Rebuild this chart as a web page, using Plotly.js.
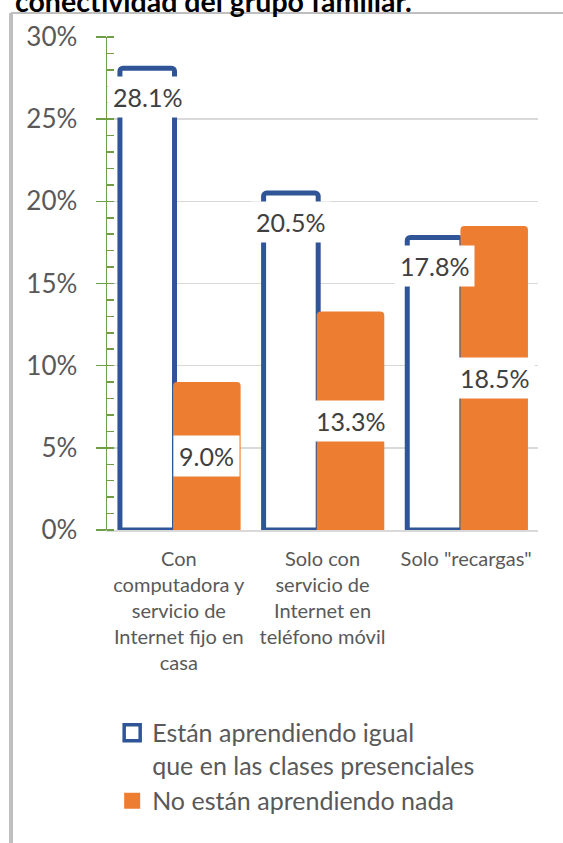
<!DOCTYPE html>
<html>
<head>
<meta charset="utf-8">
<script src="https://cdn.plot.ly/plotly-3.0.1.min.js"></script>
<style>html,body{margin:0;padding:0;background:#fff;}#chart{width:563px;height:843px;}</style>
</head>
<body>
<div id="chart"></div>
<script>
// ---- data ----
var categories = ["Con computadora y servicio de Internet fijo en casa", "Solo con servicio de Internet en teléfono móvil", "Solo \"recargas\""];
var tickLabels = ["Con<br>computadora y<br>servicio de<br>Internet fijo en<br>casa", "Solo con<br>servicio de<br>Internet en<br>teléfono móvil", "Solo \"recargas\""];
var seriesNames = ["Están aprendiendo igual<br>que en las clases presenciales", "No están aprendiendo nada"];
var igual = [0.281, 0.205, 0.178];
var nada = [0.090, 0.133, 0.185];
var yTickVals = [0, 0.05, 0.10, 0.15, 0.20, 0.25, 0.30];
var yTickText = ["0%", "5%", "10%", "15%", "20%", "25%", "30%"];
var titleText = "conectividad del grupo familiar.";

// ---- style ----
var FONT = 'Lato, "Open Sans", sans-serif';
var BLUE = '#2F5597', ORANGE = '#ED7D31', GREEN = '#6E9E48', GRID = '#D9D9D9';
var blueOff = -0.41, blueW = 0.38, orOff = -0.04, orW = 0.47;
var idx = categories.map(function(_, i){ return i; });

var traces = [
  {type:'bar', x: idx, y: igual, offset: blueOff, width: blueW, showlegend:false, hoverinfo:'skip',
   marker:{color:'#FFFFFF', line:{color:BLUE, width:5}, cornerradius:3}},
  {type:'bar', x: idx, y: nada, offset: orOff, width: orW, showlegend:false, hoverinfo:'skip',
   marker:{color:ORANGE, line:{width:0}, cornerradius:4}},
  {type:'scatter', mode:'markers', x:[null], y:[null], name: seriesNames[0], hoverinfo:'skip',
   marker:{symbol:'square', size:16, color:'#FFFFFF', line:{color:BLUE, width:3.5}}},
  {type:'scatter', mode:'markers', x:[null], y:[null], name: seriesNames[1], hoverinfo:'skip',
   marker:{symbol:'square', size:16, color:ORANGE, line:{width:0}}}
];

var annotations = [];
igual.forEach(function(v, i){
  annotations.push({xref:'x', yref:'y', x: i + blueOff + blueW/2, y: v, yshift:-29, yanchor:'middle',
    text:(v*100).toFixed(1)+'%', showarrow:false, bgcolor:'#FFFFFF', borderpad:5,
    font:{family:FONT, size:25, color:'#404040'}});
});
nada.forEach(function(v, i){
  annotations.push({xref:'x', yref:'y', x: i + orOff + orW/2, y: v/2, yanchor:'middle',
    text:(v*100).toFixed(1)+'%', showarrow:false, bgcolor:'#FFFFFF', borderpad:5,
    font:{family:FONT, size:25, color:'#404040'}});
});
annotations.push({xref:'paper', yref:'paper', x:-0.218, xanchor:'left', y:1.073, yanchor:'middle',
  text:'<b>'+titleText+'</b>', showarrow:false, font:{family:FONT, size:28.5, color:'#000000'}});

var layout = {
  width:563, height:843,
  margin:{l:107, r:25, t:37, b:313},
  paper_bgcolor:'#FFFFFF', plot_bgcolor:'#FFFFFF',
  barmode:'overlay',
  font:{family:FONT, color:'#595959'},
  xaxis:{type:'linear', range:[-0.5, 2.5], tickvals: idx, ticktext: tickLabels, ticks:'',
    showgrid:false, zeroline:false, showline:true, linecolor:GRID, linewidth:1.5,
    tickfont:{family:FONT, size:20, color:'#595959'}, ticklabelstandoff:10, fixedrange:true},
  yaxis:{range:[0, 0.3], tickvals: yTickVals, ticktext: yTickText, ticks:'outside', ticklen:10,
    tickcolor:GREEN, tickwidth:1.5, showline:true, linecolor:GREEN, linewidth:1.5,
    showgrid:true, gridcolor:GRID, gridwidth:1.5, zeroline:false,
    minor:{ticks:'inside', dtick:0.01, ticklen:7, tickcolor:GREEN, tickwidth:1.5, showgrid:false},
    tickfont:{family:FONT, size:26, color:'#595959'}, ticklabelstandoff:13, fixedrange:true},
  showlegend:true,
  legend:{x:0.012, xanchor:'left', y:-0.365, yanchor:'top', valign:'top', bgcolor:'rgba(0,0,0,0)',
    font:{family:FONT, size:25, color:'#595959'}, itemwidth:30, tracegroupgap:0},
  annotations: annotations,
  shapes:[
    {type:'line', xref:'paper', yref:'paper', x0:-0.2227, x1:-0.2227, y0:1.0487, y1:-0.64,
     line:{color:'#BFBFBF', width:4}},
    {type:'line', xref:'paper', yref:'paper', x0:-0.2227, x1:1.06, y0:1.0487, y1:1.0487,
     line:{color:'#BFBFBF', width:2}}
  ]
};

Plotly.newPlot('chart', traces, layout, {displayModeBar:false, staticPlot:true});
</script>
</body>
</html>
